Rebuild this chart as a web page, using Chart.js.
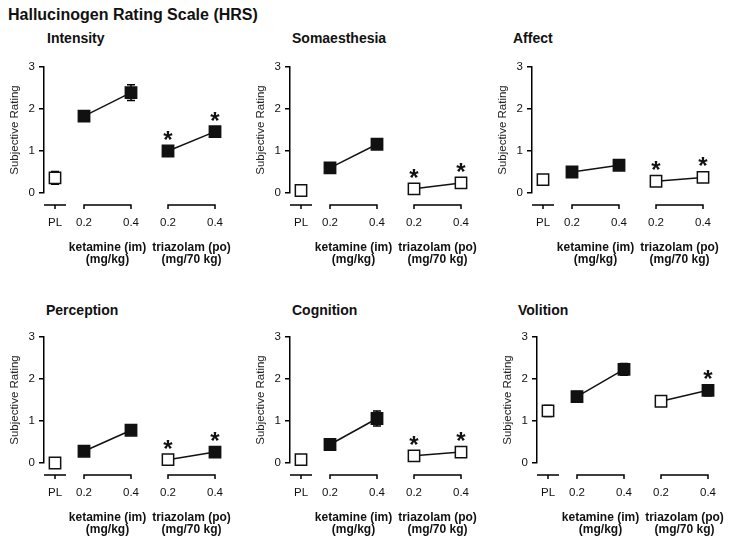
<!DOCTYPE html>
<html>
<head>
<meta charset="utf-8">
<script src="https://cdn.jsdelivr.net/npm/chart.js@4.4.1/dist/chart.umd.min.js"></script>
<style>
  body { margin: 0; background: #fff; font-family: "Liberation Sans", Arial, sans-serif; }
  #wrap { position: relative; width: 729px; height: 545px; overflow: hidden; }
  #wrap canvas { position: absolute; }
  .t { position: absolute; font-weight: bold; color: #111; white-space: nowrap; line-height: 1; }
</style>
</head>
<body>
<div id="wrap">
  <div class="t" style="left:8px; top:7px; font-size:16px;">Hallucinogen Rating Scale (HRS)</div>
</div>
<script>
// ---- data ----
const panelTitles = ['Intensity', 'Somaesthesia', 'Affect', 'Perception', 'Cognition', 'Volition'];
const placebo      = [0.36, 0.06, 0.32, 0.0, 0.08, 1.24];
const placeboErr   = [0.15, 0.04, 0.05, 0.04, 0.04, 0.13];
const ketamine     = [[1.83, 2.39], [0.6, 1.16], [0.5, 0.66], [0.28, 0.78], [0.44, 1.06], [1.58, 2.23]];
const ketamineErr  = [[0.11, 0.19], [0.06, 0.08], [0.06, 0.06], [0.06, 0.08], [0.05, 0.18], [0.12, 0.14]];
const triazolam    = [[1.0, 1.46], [0.1, 0.24], [0.28, 0.37], [0.08, 0.26], [0.17, 0.26], [1.47, 1.73]];
const triazolamErr = [[0.11, 0.06], [0.04, 0.05], [0.04, 0.05], [0.04, 0.05], [0.04, 0.05], [0.05, 0.13]];
// filled symbol = different from placebo
const triazolamFilled = [[true, true], [false, false], [false, false], [false, true], [false, false], [false, true]];
// asterisk = different from ketamine
const triazolamStar   = [[true, true], [true, true], [true, true], [true, true], [true, true], [false, true]];
const doseLabels = ['0.2', '0.4'];
const placeboLabel = 'PL';
const groupLabels = [['ketamine (im)', '(mg/kg)'], ['triazolam (po)', '(mg/70 kg)']];
const yTitle = 'Subjective Rating';

// ---- layout ----
const slotX = { PL: 11, ketamine: [40, 87], triazolam: [124, 171] };
const panelLeft = [0, 246, 488, 0, 246, 493];
const panelTop  = [30, 30, 30, 300, 300, 300];
const titleLeft = [47, 292, 513, 46, 292, 518];
const titleTop  = [31, 31, 31, 303, 303, 303];
const FONT = '"Liberation Sans", Arial, sans-serif';

Chart.defaults.font.family = FONT;
Chart.defaults.color = '#111';

const decor = {
  id: 'decor',
  beforeDatasetsDraw(chart) {
    const ctx = chart.ctx, ys = chart.scales.y;
    ctx.save();
    ctx.strokeStyle = '#000';
    ctx.lineWidth = 1.5;
    chart.data.datasets.forEach((ds, di) => {
      chart.getDatasetMeta(di).data.forEach((pt, i) => {
        const v = ds.data[i].y, e = ds.err[i];
        const top = ys.getPixelForValue(v + e), bot = ys.getPixelForValue(v - e);
        ctx.beginPath();
        ctx.moveTo(pt.x, top); ctx.lineTo(pt.x, bot);
        ctx.moveTo(pt.x - 4, top); ctx.lineTo(pt.x + 4, top);
        ctx.moveTo(pt.x - 4, bot); ctx.lineTo(pt.x + 4, bot);
        ctx.stroke();
      });
    });
    ctx.restore();
  },
  afterDatasetsDraw(chart) {
    const ctx = chart.ctx;
    ctx.save();
    ctx.fillStyle = '#111';
    ctx.font = 'bold 24px ' + FONT;
    ctx.textAlign = 'center';
    ctx.textBaseline = 'alphabetic';
    chart.data.datasets.forEach((ds, di) => {
      if (!ds.stars) return;
      chart.getDatasetMeta(di).data.forEach((pt, i) => {
        if (ds.stars[i]) ctx.fillText('*', pt.x, pt.y - 3);
      });
    });
    ctx.restore();
  },
  afterDraw(chart) {
    const ctx = chart.ctx, xs = chart.scales.x;
    const b = chart.chartArea.bottom;
    const ly = b + 12;
    ctx.save();
    ctx.strokeStyle = '#000';
    ctx.lineWidth = 1.5;
    // placebo bracket
    const px = xs.getPixelForValue(slotX.PL);
    ctx.beginPath();
    ctx.moveTo(px - 11, ly); ctx.lineTo(px + 11, ly);
    ctx.moveTo(px, ly); ctx.lineTo(px, ly + 4);
    ctx.stroke();
    ctx.fillStyle = '#111';
    ctx.textAlign = 'center';
    ctx.textBaseline = 'middle';
    ctx.font = '11.5px ' + FONT;
    ctx.fillText(placeboLabel, px, b + 29.5);
    [slotX.ketamine, slotX.triazolam].forEach((xx, g) => {
      const x0 = xs.getPixelForValue(xx[0]), x1 = xs.getPixelForValue(xx[1]);
      ctx.beginPath();
      ctx.moveTo(x0, ly + 4); ctx.lineTo(x0, ly); ctx.lineTo(x1, ly); ctx.lineTo(x1, ly + 4);
      ctx.stroke();
      ctx.font = '11.5px ' + FONT;
      ctx.fillText(doseLabels[0], x0, b + 29.5);
      ctx.fillText(doseLabels[1], x1, b + 29.5);
      ctx.font = 'bold 12px ' + FONT;
      const cx = (x0 + x1) / 2;
      ctx.fillText(groupLabels[g][0], cx, b + 55);
      ctx.fillText(groupLabels[g][1], cx, b + 67);
    });
    ctx.restore();
  }
};

const wrap = document.getElementById('wrap');

panelTitles.forEach((name, p) => {
  const t = document.createElement('div');
  t.className = 't';
  t.style.left = titleLeft[p] + 'px';
  t.style.top = titleTop[p] + 'px';
  t.style.fontSize = '14px';
  t.textContent = name;
  wrap.appendChild(t);

  const cv = document.createElement('canvas');
  cv.width = 240; cv.height = 240;
  cv.style.left = panelLeft[p] + 'px';
  cv.style.top = panelTop[p] + 'px';
  wrap.appendChild(cv);

  const fillFor = arr => arr.map(f => f ? '#111' : '#fff');

  new Chart(cv, {
    type: 'scatter',
    data: {
      datasets: [
        {
          data: [{ x: slotX.PL, y: placebo[p] }],
          err: [placeboErr[p]],
          pointBackgroundColor: '#fff',
          showLine: false
        },
        {
          data: ketamine[p].map((v, i) => ({ x: slotX.ketamine[i], y: v })),
          err: ketamineErr[p],
          pointBackgroundColor: '#111',
          showLine: true
        },
        {
          data: triazolam[p].map((v, i) => ({ x: slotX.triazolam[i], y: v })),
          err: triazolamErr[p],
          stars: triazolamStar[p],
          pointBackgroundColor: fillFor(triazolamFilled[p]),
          showLine: true
        }
      ].map(ds => Object.assign({
        pointStyle: 'rect',
        pointRadius: 8,
        pointHoverRadius: 8,
        pointBorderColor: '#111',
        pointBorderWidth: 1.5,
        borderColor: '#111',
        borderWidth: 1.5,
        clip: false
      }, ds))
    },
    options: {
      responsive: false,
      animation: false,
      events: [],
      layout: { padding: { left: 0, right: 11, top: 37, bottom: 77 } },
      plugins: { legend: { display: false }, tooltip: { enabled: false } },
      scales: {
        x: { type: 'linear', display: false, min: 0, max: 185 },
        y: {
          min: 0, max: 3,
          afterFit: s => { s.width = 44; },
          ticks: { stepSize: 1, color: '#111', padding: 4, font: { size: 11.5 } },
          grid: { drawOnChartArea: false, drawTicks: true, tickLength: 5, color: '#000', lineWidth: 1.5 },
          border: { display: true, color: '#000', width: 1.5 },
          title: { display: true, text: yTitle, color: '#222', font: { size: 11.5 }, padding: { top: 8, bottom: 0 } }
        }
      }
    },
    plugins: [decor]
  });
});
</script>
</body>
</html>
